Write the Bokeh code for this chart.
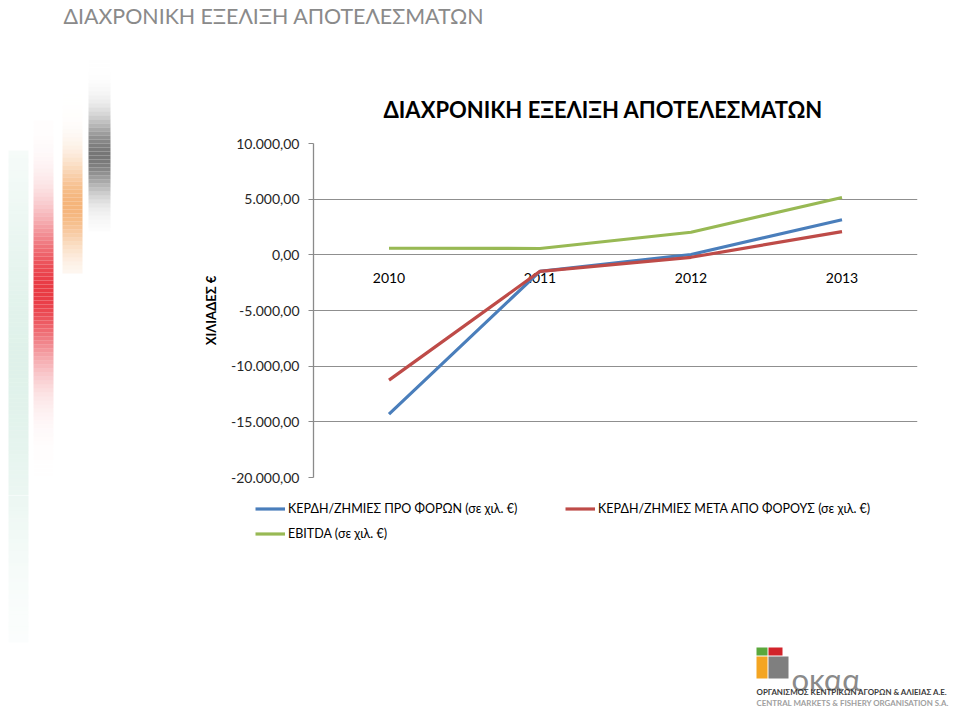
import math
from bokeh.plotting import figure
from bokeh.layouts import column, row
from bokeh.models import (Range1d, FactorRange, FixedTicker, CustomJSTickFormatter,
                          Legend, LegendItem)
from bokeh.core.properties import value
from bokeh.embed import file_html
from bokeh.resources import INLINE

# ---------------- data ----------------
years = ["2010", "2011", "2012", "2013"]
pre_tax = [-14300, -1480, 30, 3150]      # ΚΕΡΔΗ/ΖΗΜΙΕΣ ΠΡΟ ΦΟΡΩΝ
after_tax = [-11250, -1480, -220, 2090]  # ΚΕΡΔΗ/ΖΗΜΙΕΣ ΜΕΤΑ ΑΠΟ ΦΟΡΟΥΣ
ebitda = [590, 570, 2030, 5150]          # EBITDA
y_ticks = [-20000, -15000, -10000, -5000, 0, 5000, 10000]
series_labels = ["ΚΕΡΔΗ/ΖΗΜΙΕΣ ΠΡΟ ΦΟΡΩΝ (σε χιλ. €)",
                 "ΚΕΡΔΗ/ΖΗΜΙΕΣ ΜΕΤΑ ΑΠΟ ΦΟΡΟΥΣ (σε χιλ. €)",
                 "EBITDA (σε χιλ. €)"]
slide_title = "ΔΙΑΧΡΟΝΙΚΗ ΕΞΕΛΙΞΗ ΑΠΟΤΕΛΕΣΜΑΤΩΝ"
chart_title = "ΔΙΑΧΡΟΝΙΚΗ ΕΞΕΛΙΞΗ ΑΠΟΤΕΛΕΣΜΑΤΩΝ"
y_title = "ΧΙΛΙΑΔΕΣ €"
logo_word = "οκαα"
logo_line1 = "ΟΡΓΑΝΙΣΜΟΣ ΚΕΝΤΡΙΚΩΝ ΑΓΟΡΩΝ & ΑΛΙΕΙΑΣ Α.Ε."
logo_line2 = "CENTRAL MARKETS & FISHERY ORGANISATION S.A."

FONT = "Lato"
colors = ["#4A7EBB", "#BE4B48", "#98B954"]


def blank(w, h):
    """Auxiliary figure whose frame is the whole figure, in pixel coordinates (y down)."""
    f = figure(width=w, height=h, x_range=Range1d(0, w), y_range=Range1d(h, 0),
               output_backend="svg", toolbar_location=None, min_border=0)
    f.axis.visible = False
    f.grid.visible = False
    f.outline_line_color = None
    f.background_fill_color = "white"
    f.border_fill_color = "white"
    return f


# ---------------- main chart ----------------
CW, CH = 835, 450          # placed at page (120, 45)
FL, FT, FW, FH = 193, 98, 604, 334

p = figure(width=CW, height=CH,
           x_range=FactorRange(factors=years, range_padding=0),
           y_range=Range1d(-20000, 10000),
           output_backend="svg", toolbar_location=None,
           min_border_left=FL, min_border_right=CW - FL - FW,
           min_border_top=FT, min_border_bottom=CH - FT - FH)
p.outline_line_color = None
p.background_fill_color = "white"
p.border_fill_color = "white"

p.title.text = chart_title
p.title.text_font = FONT
p.title.text_font_size = "22px"
p.title.text_font_style = "bold"
p.title.text_color = "#000000"
p.title.align = "left"
p.title.offset = 70
p.title.standoff = 41

p.yaxis.ticker = FixedTicker(ticks=y_ticks)
p.yaxis.formatter = CustomJSTickFormatter(code="""
const neg = tick < 0;
const s = Math.round(Math.abs(tick)).toString().replace(/\\B(?=(\\d{3})+(?!\\d))/g, ".");
return (neg ? "-" : "") + s + ",00";
""")
p.yaxis.axis_line_color = "#8a8a8a"
p.yaxis.axis_line_width = 1.3
p.yaxis.major_tick_line_color = "#8a8a8a"
p.yaxis.major_tick_out = 5
p.yaxis.major_tick_in = 0
p.yaxis.minor_tick_line_color = None
p.yaxis.major_label_text_font = FONT
p.yaxis.major_label_text_font_size = "14px"
p.yaxis.major_label_text_color = "#262626"
p.yaxis.major_label_standoff = 9
p.yaxis.axis_label = y_title
p.yaxis.axis_label_text_font = FONT
p.yaxis.axis_label_text_font_style = "bold"
p.yaxis.axis_label_text_font_size = "13px"
p.yaxis.axis_label_text_color = "#000000"
p.yaxis.axis_label_standoff = 9

p.xaxis.visible = False
p.xgrid.grid_line_color = None
p.ygrid.ticker = FixedTicker(ticks=y_ticks)
p.ygrid.grid_line_color = "#8f8f8f"
p.ygrid.grid_line_width = 1

# category labels just under the zero line (horizontal axis crossing at 0)
p.text(x=years, y=[0] * len(years), text=years, text_align="center",
       text_baseline="middle", y_offset=23, text_font=value(FONT),
       text_font_size="14px", text_color="#000000")

p.line(years, pre_tax, line_color=colors[0], line_width=3.2)
p.line(years, after_tax, line_color=colors[1], line_width=3.2)
p.line(years, ebitda, line_color=colors[2], line_width=3.2)

# ---------------- decorative gradient bars (page px) ----------------
bars = [  # x0, x1, y_start, y_end, y_peak, sigma, color, peak_alpha
    (8, 28, 150, 640, 360, 190, "#9fd6c0", 0.33),
    (33, 53, 120, 480, 290, 75, "#e8303a", 0.95),
    (62, 82, 85, 270, 205, 45, "#f2a25a", 0.8),
    (88, 110, 55, 230, 155, 38, "#6f6f6f", 0.95),
]
ql, qr, qt, qb, qc, qa = [], [], [], [], [], []
for x0, x1, ys, ye, yp, sg, col, pa in bars:
    step = 4
    yy = ys
    while yy < ye:
        ql.append(x0); qr.append(x1)
        qt.append(yy); qb.append(yy + step)
        qc.append(col); qa.append(pa * math.exp(-((yy + step / 2 - yp) / sg) ** 2))
        yy += step


def decor(f, y0):
    f.quad(left=ql, right=qr, top=[t - y0 for t in qt], bottom=[b - y0 for b in qb],
           fill_color=qc, fill_alpha=qa, line_color=None)


DW, DH = 120, 450          # page (0, 45)
df = blank(DW, DH)
decor(df, 45)

# ---------------- legend strip + lower decor ----------------
LW, LH = 955, 150          # page (0, 495)
lg = blank(LW, LH)
decor(lg, 495)
# legend-only renderers (kept outside the visible area)
d1 = lg.line([-60, -50], [-60, -60], line_color=colors[0], line_width=3.2)
d2 = lg.line([-60, -50], [-60, -60], line_color=colors[1], line_width=3.2)
d3 = lg.line([-60, -50], [-60, -60], line_color=colors[2], line_width=3.2)


def make_legend(items, loc):
    return Legend(items=items, location=loc, orientation="vertical",
                  padding=0, margin=0, spacing=10, glyph_width=30, glyph_height=15,
                  label_height=15, label_standoff=3,
                  label_text_font=FONT, label_text_font_size="12.5px",
                  label_text_color="#000000",
                  border_line_color=None, background_fill_alpha=0)


lg.add_layout(make_legend([LegendItem(label=series_labels[0], renderers=[d1]),
                           LegendItem(label=series_labels[2], renderers=[d3])], (255, 104)))
lg.add_layout(make_legend([LegendItem(label=series_labels[1], renderers=[d2])], (565, 129.5)))

# ---------------- slide title ----------------
TW, TH = 955, 45
tf = blank(TW, TH)
tf.text(x=[63], y=[15], text=[slide_title], text_font=value(FONT), text_font_size="21.4px",
        text_color="#8a8a8a", text_align="left", text_baseline="alphabetic")

# ---------------- logo ----------------
GW, GH = 955, 61           # page (0, 645)
gf = blank(GW, GH)
gf.quad(left=[756, 768, 756, 768], right=[767, 782, 767, 788],
        top=[2, 2, 11, 11], bottom=[10, 10, 33, 33],
        fill_color=["#5aa83c", "#d2232a", "#f4a522", "#7f7f7f"], line_color=None)
gf.text(x=[791], y=[33], text=[logo_word], text_font=value(FONT), text_font_size="31px",
        text_color="#8a8a8a", text_align="left", text_baseline="alphabetic")
gf.text(x=[756, 756], y=[46, 57], text=[logo_line1, logo_line2], text_font=value(FONT),
        text_font_size="7.9px", text_font_style="bold", text_color=["#3a3a3a", "#a0a0a0"],
        text_align="left", text_baseline="alphabetic")

layout = column(tf, row(column(df, spacing=0), p, spacing=0), lg, gf, spacing=0)

open("out.html", "w").write(file_html(layout, INLINE))
